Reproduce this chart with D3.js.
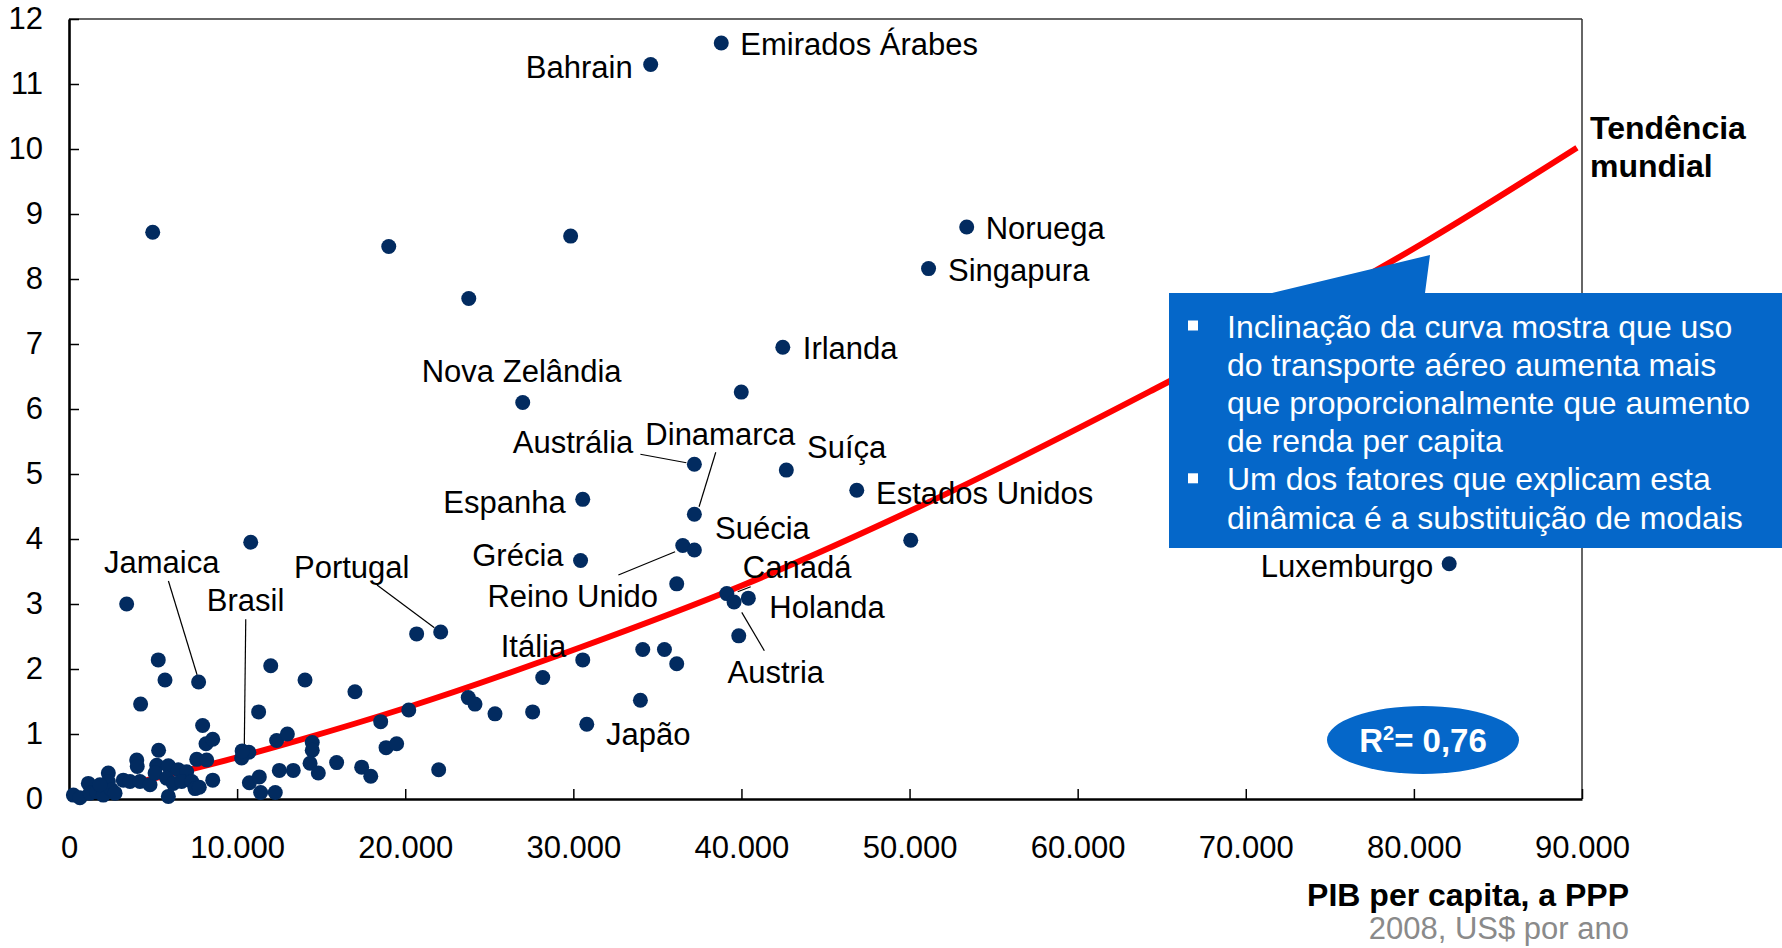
<!DOCTYPE html>
<html>
<head>
<meta charset="utf-8">
<script src="https://cdn.jsdelivr.net/npm/d3@7/dist/d3.min.js"></script>
<style>
  html, body { margin: 0; padding: 0; background: #ffffff; }
  svg { display: block; font-family: "Liberation Sans", Arial, Helvetica, sans-serif; }
</style>
</head>
<body>
<svg id="chart" width="1782" height="948"></svg>
<script>
// Named countries: PIB per capita (PPP, 2008 US$) and air-transport index
const namedCountries = ["Emirados Árabes", "Bahrain", "Noruega", "Singapura", "Irlanda",
  "Nova Zelândia", "Austrália", "Dinamarca", "Suíça", "Estados Unidos", "Espanha", "Grécia",
  "Reino Unido", "Suécia", "Canadá", "Holanda", "Austria", "Portugal", "Itália", "Japão",
  "Jamaica", "Brasil", "Luxemburgo"];
const namedGdp = [38800, 34600, 53400, 51130, 42460,
  26990, 37200, 37200, 42670, 46860, 30560, 30430,
  36510, 37200, 39130, 40410, 39560, 22110, 30560, 30800,
  7710, 10300, 82100];
const namedValue = [11.63, 11.30, 8.80, 8.16, 6.95,
  6.10, 5.15, 4.38, 5.06, 4.75, 4.61, 3.67,
  3.90, 3.83, 3.16, 3.09, 3.03, 2.57, 2.14, 1.15,
  1.80, 0.74, 3.62];

// Remaining countries (unlabelled)
const otherGdp = [4980, 19020, 23780, 29840, 39990, 10810, 3430, 50070, 36150, 39840,
  34130, 35420, 36150, 33990,
  5310, 5710, 4260, 12000, 14040, 17010, 11280, 7950, 8150, 8550, 5330, 12350, 12990,
  14470, 14470, 14340, 14830, 15920, 17410, 17950, 18540, 18860, 19490, 20210, 20680,
  21990, 23750, 24150, 25340, 27580, 28180, 10700, 10270, 4030, 4060, 5220, 7600, 8190,
  5910, 6500, 7000, 8550, 10730, 11320, 11400, 12270, 12510, 13340, 5910,
  260, 650, 1150, 1250, 1650, 2040, 2340, 2340, 2540, 2740, 1840, 3230, 3630, 4220,
  4820, 5120, 5810, 6200, 6700, 7300, 7500, 7750];
const otherValue = [8.72, 8.50, 7.70, 8.66, 6.26, 3.95, 3.00, 3.98, 3.31, 2.51,
  2.30, 2.30, 2.08, 1.52,
  2.14, 1.83, 1.46, 2.05, 1.83, 1.65, 1.34, 1.13, 0.85, 0.92, 0.75, 0.90, 1.00,
  0.87, 0.75, 0.55, 0.40, 0.56, 0.49, 0.35, 1.19, 0.79, 0.85, 1.37, 2.54,
  0.45, 1.56, 1.46, 1.31, 1.34, 1.87, 0.72, 0.63, 0.60, 0.50, 0.52, 0.61, 0.60,
  0.51, 0.45, 0.42, 0.29, 0.25, 0.34, 0.10, 0.10, 0.44, 0.44, 0.04,
  0.06, 0.02, 0.24, 0.09, 0.11, 0.06, 0.40, 0.27, 0.14, 0.09, 0.22, 0.29, 0.27, 0.27,
  0.22, 0.40, 0.32, 0.24, 0.27, 0.27, 0.16, 0.18];

// World trend curve (readings along the fitted curve)
const trendGdp = [4000, 10000, 13740, 20000, 30400, 40000, 50600, 64300, 80860, 89700];
const trendValue = [0.25, 0.64, 0.91, 1.40, 2.33, 3.28, 4.50, 6.27, 8.60, 10.02];

// Axis ticks
const xTicks = [0, 10000, 20000, 30000, 40000, 50000, 60000, 70000, 80000, 90000];
const yTicks = [0, 1, 2, 3, 4, 5, 6, 7, 8, 9, 10, 11, 12];

const r2Text = "0,76";
const calloutLines = [
  ["Inclinação da curva mostra que uso", true],
  ["do transporte aéreo aumenta mais", false],
  ["que proporcionalmente que aumento", false],
  ["de renda per capita", false],
  ["Um dos fatores que explicam esta", true],
  ["dinâmica é a substituição de modais", false]
];

// Label placement relative to each dot: [dx, dy(baseline), anchor, leader?]
const labelLayout = {
  "Emirados Árabes": [19, 12, "start"],
  "Bahrain": [-18, 13, "end"],
  "Noruega": [19, 12, "start"],
  "Singapura": [19.5, 12.5, "start"],
  "Irlanda": [20, 12, "start"],
  "Nova Zelândia": [-101, -20.5, "start"],
  "Austrália": [-61, -11.5, "end", [-54, -10, -8, -1.5]],
  "Dinamarca": [-49, -69, "start", [21.4, -62, 4.7, -7.6]],
  "Suíça": [20.7, -12, "start"],
  "Estados Unidos": [19.3, 13.3, "start"],
  "Espanha": [-17, 14, "end"],
  "Grécia": [-17, 5.5, "end"],
  "Reino Unido": [-24.7, 61, "end", [-64.4, 29.5, -7.7, 6.2]],
  "Suécia": [20.7, -11, "start"],
  "Canadá": [16, -15.3, "start", [10.9, -1.9, 23.9, -6.9]],
  "Holanda": [21, 20, "start"],
  "Austria": [-6.5, 81, "start", [7.7, 10.3, 30.3, 48.7]],
  "Portugal": [-146.7, -54.3, "start", [-63.7, -47, -6.3, -4.3]],
  "Itália": [-82, -3.2, "start"],
  "Japão": [19.3, 20.8, "start"],
  "Jamaica": [-94.6, -108.7, "start", [-30.2, -101, -1.5, -7]],
  "Brasil": [-35.4, -140, "start", [3.6, -131.6, 2.1, -1]],
  "Luxemburgo": [-16, 13.3, "end"]
};

const navy = "#022b60";
const blue = "#0567c9";

const svg = d3.select("#chart");
const margin = { left: 69, right: 1582, top: 19, bottom: 799 };

const x = d3.scaleLinear().domain([0, 90000]).range([margin.left, margin.right]);
const y = d3.scaleLinear().domain([0, 12]).range([margin.bottom, margin.top]);

const ptFmt = d3.formatLocale({ decimal: ",", thousands: ".", grouping: [3], currency: ["", ""] }).format(",");

// frame: top and right borders
svg.append("line").attr("x1", x(0)).attr("x2", x(90000)).attr("y1", y(12)).attr("y2", y(12))
  .attr("stroke", "#333").attr("stroke-width", 1.5);
svg.append("line").attr("x1", x(90000)).attr("x2", x(90000)).attr("y1", y(12)).attr("y2", y(0))
  .attr("stroke", "#333").attr("stroke-width", 1.5);

// axes
const xAxis = svg.append("g").attr("transform", `translate(0,${y(0)})`)
  .call(d3.axisBottom(x).tickValues(xTicks).tickSize(-10).tickSizeOuter(0).tickPadding(37)
    .tickFormat(d => ptFmt(d)));
const yAxis = svg.append("g").attr("transform", `translate(${x(0)},0)`)
  .call(d3.axisLeft(y).tickValues(yTicks).tickSize(-10).tickSizeOuter(0).tickPadding(26));

[xAxis, yAxis].forEach(g => {
  g.select(".domain").attr("stroke", "#000").attr("stroke-width", 2.6);
  g.selectAll(".tick line").attr("stroke", "#000").attr("stroke-width", 1.5);
  g.selectAll(".tick text").attr("fill", "#000").style("font-size", "31px")
    .style("font-family", "'Liberation Sans', Arial, sans-serif");
});
xAxis.selectAll(".tick").filter(d => d === 0).select("line").remove();
yAxis.selectAll(".tick").filter(d => d === 0).select("line").remove();

// trend line
const trend = trendGdp.map((g, i) => [g, trendValue[i]]);
svg.append("path").datum(trend)
  .attr("d", d3.line().x(d => x(d[0])).y(d => y(d[1])).curve(d3.curveMonotoneX))
  .attr("fill", "none").attr("stroke", "#ff0000").attr("stroke-width", 6);

// leader lines
const named = namedCountries.map((n, i) => ({ name: n, gdp: namedGdp[i], value: namedValue[i] }));
svg.append("g").selectAll("line").data(named.filter(d => labelLayout[d.name][3])).join("line")
  .attr("x1", d => x(d.gdp) + labelLayout[d.name][3][0])
  .attr("y1", d => y(d.value) + labelLayout[d.name][3][1])
  .attr("x2", d => x(d.gdp) + labelLayout[d.name][3][2])
  .attr("y2", d => y(d.value) + labelLayout[d.name][3][3])
  .attr("stroke", "#000").attr("stroke-width", 1.2);

// dots
const others = otherGdp.map((g, i) => ({ gdp: g, value: otherValue[i] }));
svg.append("g").selectAll("circle").data(others.concat(named)).join("circle")
  .attr("cx", d => x(d.gdp)).attr("cy", d => y(d.value)).attr("r", 7.5)
  .attr("fill", navy);

// country labels
svg.append("g").selectAll("text").data(named).join("text")
  .attr("x", d => x(d.gdp) + labelLayout[d.name][0])
  .attr("y", d => y(d.value) + labelLayout[d.name][1])
  .attr("text-anchor", d => labelLayout[d.name][2])
  .style("font-size", "31px").attr("fill", "#000")
  .text(d => d.name);

// trend label
const tl = svg.append("text").attr("x", 1590).attr("y", 139)
  .style("font-size", "32px").style("font-weight", "bold").attr("fill", "#000");
tl.append("tspan").attr("x", 1590).text("Tendência");
tl.append("tspan").attr("x", 1590).attr("dy", 38).text("mundial");

// callout box
svg.append("path")
  .attr("d", "M1169,293 H1272 L1430,255 L1425,293 H1782 V548 H1169 Z")
  .attr("fill", blue);
calloutLines.forEach((ln, i) => {
  const base = 337.5 + i * 38.2;
  if (ln[1]) {
    svg.append("rect").attr("x", 1188).attr("y", base - 17).attr("width", 10).attr("height", 10)
      .attr("fill", "#fff");
  }
  svg.append("text").attr("x", 1227).attr("y", base)
    .style("font-size", "32px").attr("fill", "#fff").text(ln[0]);
});

// R² badge
svg.append("ellipse").attr("cx", 1423).attr("cy", 740).attr("rx", 96).attr("ry", 34)
  .attr("fill", blue);
const r2 = svg.append("text").attr("x", 1423).attr("y", 752).attr("text-anchor", "middle")
  .style("font-size", "33px").style("font-weight", "bold").attr("fill", "#fff");
r2.append("tspan").text("R");
r2.append("tspan").attr("dy", -12).style("font-size", "20px").text("2");
r2.append("tspan").attr("dy", 12).text("= " + r2Text);

// axis title
svg.append("text").attr("x", 1629).attr("y", 906).attr("text-anchor", "end")
  .style("font-size", "32px").style("font-weight", "bold").attr("fill", "#000")
  .text("PIB per capita, a PPP");
svg.append("text").attr("x", 1629).attr("y", 939).attr("text-anchor", "end")
  .style("font-size", "31px").attr("fill", "#8a8a8a")
  .text("2008, US$ por ano");
</script>
</body>
</html>
